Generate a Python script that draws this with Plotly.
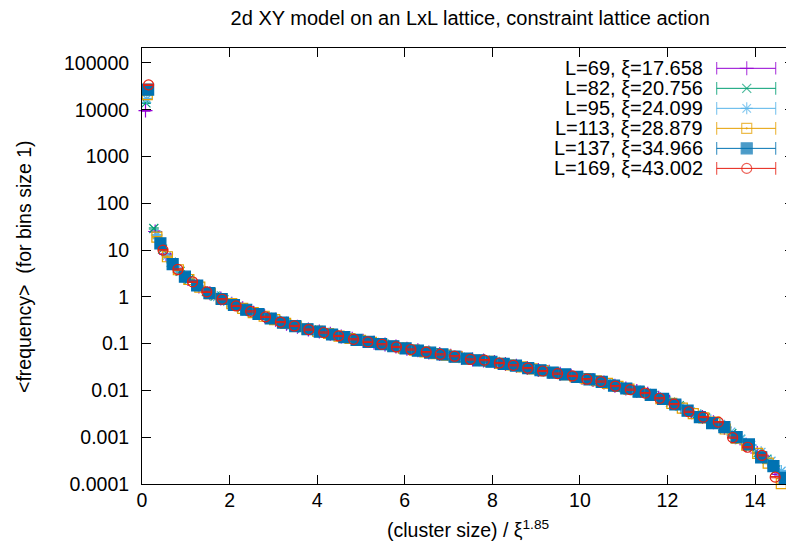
import plotly.graph_objects as go

# ---------------- data ----------------
labels = ["L=69, ξ=17.658", "L=82, ξ=20.756", "L=95, ξ=24.099",
          "L=113, ξ=28.879", "L=137, ξ=34.966", "L=169, ξ=43.002"]

x_L69 = [0.08, 0.30, 0.55, 0.80, 1.05, 1.30, 1.55, 1.80, 2.05, 2.30, 2.55, 2.80, 3.05, 3.30, 3.55,
         3.80, 4.05, 4.30, 4.55, 4.80, 5.05, 5.30, 5.55, 5.80, 6.05, 6.30, 6.55, 6.80, 7.05, 7.30,
         7.55, 7.80, 8.05, 8.30, 8.55, 8.80, 9.05, 9.30, 9.55, 9.80, 10.05, 10.30, 10.55, 10.80,
         11.05, 11.30, 11.55, 11.80, 12.05, 12.30, 12.55, 12.80, 13.05, 13.30, 13.55, 13.80, 14.05,
         14.30, 14.55, 14.80]
y_L69 = [9600, 25, 8.2, 4.0, 2.4, 1.66, 1.19, 0.92, 0.71, 0.57, 0.46, 0.385, 0.325, 0.268, 0.23,
         0.201, 0.181, 0.162, 0.143, 0.127, 0.115, 0.105, 0.096, 0.087, 0.078, 0.072, 0.065, 0.060,
         0.055, 0.050, 0.046, 0.0435, 0.0405, 0.0368, 0.0338, 0.0302, 0.0275, 0.0252, 0.0228, 0.0207,
         0.0186, 0.0167, 0.0148, 0.0126, 0.0110, 0.0097, 0.0085, 0.0070, 0.0057, 0.0045, 0.0034,
         0.0027, 0.0021, 0.0016, 0.0010, 0.00069, 0.00046, 0.00030, 0.00016, 0.00017]

x_L82 = [0.09, 0.27, 0.47, 0.67, 0.87, 1.07, 1.27, 1.47, 1.67, 1.87, 2.07, 2.27, 2.47, 2.67, 2.87,
         3.07, 3.27, 3.47, 3.67, 3.87, 4.07, 4.27, 4.47, 4.67, 4.87, 5.07, 5.27, 5.47, 5.67, 5.87,
         6.07, 6.27, 6.47, 6.67, 6.87, 7.07, 7.27, 7.47, 7.67, 7.87, 8.07, 8.27, 8.47, 8.67, 8.87,
         9.07, 9.27, 9.47, 9.67, 9.87, 10.07, 10.27, 10.47, 10.67, 10.87, 11.07, 11.27, 11.47, 11.67,
         11.87, 12.07, 12.27, 12.47, 12.67, 12.87, 13.07, 13.27, 13.47, 13.67, 13.87, 14.07, 14.27,
         14.47, 14.67]
y_L82 = [14000, 29, 10.5, 5.5, 3.5, 2.35, 1.72, 1.30, 1.04, 0.86, 0.69, 0.58, 0.49, 0.42, 0.365,
         0.315, 0.275, 0.24, 0.215, 0.196, 0.180, 0.165, 0.149, 0.135, 0.123, 0.114, 0.105, 0.098,
         0.091, 0.084, 0.077, 0.072, 0.067, 0.062, 0.058, 0.055, 0.051, 0.047, 0.044, 0.043, 0.040,
         0.037, 0.0345, 0.0325, 0.0298, 0.027, 0.025, 0.023, 0.0215, 0.0198, 0.0185, 0.0169, 0.0156,
         0.0140, 0.0122, 0.0110, 0.0099, 0.0089, 0.0078, 0.0067, 0.0056, 0.0047, 0.0037, 0.0031,
         0.0026, 0.0021, 0.0017, 0.0012, 0.00090, 0.00064, 0.00047, 0.00034, 0.00020, 0.00015]

x_L95 = [0.11, 0.34, 0.57, 0.80, 1.03, 1.26, 1.49, 1.72, 1.95, 2.18, 2.41, 2.64, 2.87, 3.10, 3.33,
         3.56, 3.79, 4.02, 4.25, 4.48, 4.71, 4.94, 5.17, 5.40, 5.63, 5.86, 6.09, 6.32, 6.55, 6.78,
         7.01, 7.24, 7.47, 7.70, 7.93, 8.16, 8.39, 8.62, 8.85, 9.08, 9.31, 9.54, 9.77, 10.00, 10.23,
         10.46, 10.69, 10.92, 11.15, 11.38, 11.61, 11.84, 12.07, 12.30, 12.53, 12.76, 12.99, 13.22,
         13.45, 13.68, 13.91, 14.14, 14.37, 14.60, 14.83]
y_L95 = [17000, 21, 7.6, 4.0, 2.5, 1.75, 1.27, 1.0, 0.79, 0.63, 0.51, 0.44, 0.365, 0.31, 0.262,
         0.229, 0.202, 0.184, 0.165, 0.147, 0.132, 0.119, 0.109, 0.100, 0.092, 0.084, 0.077, 0.071,
         0.065, 0.060, 0.056, 0.051, 0.047, 0.044, 0.042, 0.039, 0.0355, 0.0328, 0.0298, 0.027,
         0.025, 0.0228, 0.021, 0.019, 0.0172, 0.0157, 0.0138, 0.0119, 0.0106, 0.0095, 0.0082, 0.0069,
         0.0056, 0.0045, 0.0035, 0.0029, 0.0023, 0.0019, 0.0013, 0.00092, 0.00068, 0.00048, 0.00031,
         0.00019, 0.00018]

x_L113 = [0.12, 0.34, 0.58, 0.83, 1.07, 1.32, 1.56, 1.81, 2.05, 2.30, 2.54, 2.79, 3.03, 3.28, 3.52,
          3.77, 4.01, 4.26, 4.50, 4.75, 4.99, 5.24, 5.48, 5.73, 5.97, 6.22, 6.46, 6.71, 6.95, 7.20,
          7.44, 7.69, 7.93, 8.18, 8.42, 8.67, 8.91, 9.16, 9.40, 9.65, 9.89, 10.14, 10.38, 10.63,
          10.87, 11.12, 11.36, 11.61, 11.85, 12.10, 12.34, 12.59, 12.83, 13.08, 13.32, 13.57, 13.81,
          14.06, 14.30, 14.60]
y_L113 = [21000, 19, 7.2, 3.8, 2.35, 1.62, 1.17, 0.91, 0.72, 0.57, 0.46, 0.385, 0.325, 0.272,
          0.234, 0.205, 0.184, 0.165, 0.145, 0.129, 0.117, 0.107, 0.097, 0.088, 0.080, 0.073, 0.067,
          0.061, 0.057, 0.052, 0.047, 0.044, 0.042, 0.038, 0.035, 0.032, 0.029, 0.0265, 0.024,
          0.0218, 0.0198, 0.0178, 0.0161, 0.0142, 0.0122, 0.0107, 0.0094, 0.0080, 0.0067, 0.0053,
          0.0042, 0.0032, 0.0026, 0.0021, 0.0015, 0.00095, 0.00068, 0.00045, 0.00028, 0.000102]

x_L137 = [0.14, 0.42, 0.70, 0.98, 1.26, 1.54, 1.82, 2.10, 2.38, 2.66, 2.94, 3.22, 3.50, 3.78, 4.06,
          4.34, 4.62, 4.90, 5.18, 5.46, 5.74, 6.02, 6.30, 6.58, 6.86, 7.14, 7.42, 7.70, 7.98, 8.26,
          8.54, 8.82, 9.10, 9.38, 9.66, 9.94, 10.22, 10.50, 10.78, 11.06, 11.34, 11.62, 11.90, 12.18,
          12.46, 12.74, 13.02, 13.30, 13.58, 13.86, 14.14, 14.42, 14.68]
y_L137 = [27000, 13.9, 5.0, 2.7, 1.75, 1.20, 0.90, 0.67, 0.53, 0.43, 0.345, 0.282, 0.237, 0.203,
          0.180, 0.157, 0.138, 0.121, 0.109, 0.098, 0.088, 0.079, 0.071, 0.064, 0.059, 0.053, 0.048,
          0.044, 0.041, 0.037, 0.034, 0.030, 0.027, 0.024, 0.022, 0.0195, 0.0172, 0.0153, 0.0127,
          0.0110, 0.0094, 0.0080, 0.0066, 0.0050, 0.0037, 0.0027, 0.0020, 0.00165, 0.00100, 0.00070,
          0.00037, 0.00024, 0.000135]

x_L169 = [0.15, 0.48, 0.82, 1.155, 1.48, 1.83, 2.15, 2.48, 2.82, 3.16, 3.48, 3.81, 4.15, 4.49, 4.83,
          5.16, 5.48, 5.81, 6.14, 6.49, 6.81, 7.14, 7.50, 7.82, 8.16, 8.48, 8.81, 9.15, 9.49, 9.83,
          10.16, 10.48, 10.81, 11.15, 11.49, 11.82, 12.15, 12.49, 12.82, 13.16, 13.49, 13.83, 14.16,
          14.46]
y_L169 = [34000, 10, 3.86, 2.1, 1.28, 0.89, 0.64, 0.49, 0.373, 0.29, 0.239, 0.2, 0.173, 0.146,
          0.124, 0.109, 0.097, 0.085, 0.075, 0.066, 0.059, 0.054, 0.046, 0.0445, 0.0386, 0.0345,
          0.030, 0.026, 0.0229, 0.0204, 0.0174, 0.0155, 0.0124, 0.0104, 0.0088, 0.0068, 0.0051,
          0.0035, 0.0027, 0.0021, 0.00098, 0.00061, 0.00041, 0.00014]

y_tickvals = [1e-4, 1e-3, 1e-2, 1e-1, 1, 10, 100, 1000, 10000, 100000]
y_ticktext = ["0.0001", "0.001", "0.01", "0.1", "1", "10", "100", "1000", "10000", "100000"]
x_tickvals = [0, 2, 4, 6, 8, 10, 12, 14]

# ---------------- styling ----------------
colors = ["#9400d3", "#009e73", "#56b4e9", "#e69f00", "#0072b2", "#e51e10"]
symbols = ["cross-thin-open", "x-thin-open", "asterisk-open", "square-open-dot", "square", "circle-open"]
sizes = [10, 9, 10, 10, 11, 10]
FONT = "Liberation Sans, Arial, sans-serif"
FS_TICK = 19.5
FS_TEXT = 20

series = [(x_L69, y_L69), (x_L82, y_L82), (x_L95, y_L95),
          (x_L113, y_L113), (x_L137, y_L137), (x_L169, y_L169)]

fig = go.Figure()
for (xs, ys), c, s, sz, lab in zip(series, colors, symbols, sizes, labels):
    fig.add_trace(go.Scatter(
        x=xs, y=ys, mode="markers", name=lab, showlegend=False, cliponaxis=False,
        marker=dict(symbol=s, size=sz, color=c, line=dict(color=c, width=1.2)),
        error_y=dict(type="percent", value=3, color=c, thickness=1, width=5),
    ))

# custom gnuplot-style key (text right-aligned, sample to the right)
KEY_TEXT_X = 0.8635
KEY_X0, KEY_XM, KEY_X1 = 0.8814, 0.9275, 0.9719
KEY_Y0, KEY_DY = 0.9534, 0.0459
for i, (c, s, sz, lab) in enumerate(zip(colors, symbols, sizes, labels)):
    ky = KEY_Y0 - i * KEY_DY
    fig.add_trace(go.Scatter(
        x=[KEY_X0, KEY_XM, KEY_X1], y=[ky, ky, ky], xaxis="x2", yaxis="y2",
        mode="lines+markers", showlegend=False, hoverinfo="skip", cliponaxis=False,
        line=dict(color=c, width=1),
        marker=dict(symbol=["line-ns-open", s, "line-ns-open"], size=[9, sz, 9], color=c,
                    line=dict(color=c, width=1.2)),
    ))
    fig.add_annotation(x=KEY_TEXT_X, y=ky, xref="x2", yref="y2", text=lab, showarrow=False,
                       xanchor="right", yanchor="middle",
                       font=dict(family=FONT, size=FS_TEXT, color="black"))

axis_common = dict(showline=True, linecolor="black", linewidth=1, mirror="ticks",
                   ticks="inside", ticklen=9, tickwidth=1, tickcolor="black",
                   showgrid=False, zeroline=False,
                   tickfont=dict(family=FONT, size=FS_TICK, color="black"))

# the page body adds an 8px offset; the figure is sized to keep the plot frame in place
fig.update_layout(
    width=786, height=541,
    margin=dict(l=134, r=0, t=40, b=65),
    paper_bgcolor="white", plot_bgcolor="white",
    title=dict(text="2d XY model on an LxL lattice, constraint lattice action",
               x=0.588, xanchor="center", y=0.9815, yanchor="middle",
               font=dict(family=FONT, size=FS_TEXT, color="black")),
    xaxis=dict(range=[0, 14.89], tickvals=x_tickvals, ticklabelstandoff=-1, **axis_common),
    yaxis=dict(type="log", range=[-4, 5.32], tickvals=y_tickvals, ticktext=y_ticktext,
               ticklabelstandoff=8, **axis_common),
    xaxis2=dict(range=[0, 1], overlaying="x", visible=False, fixedrange=True),
    yaxis2=dict(range=[0, 1], overlaying="y", visible=False, fixedrange=True),
    showlegend=False,
)

fig.add_annotation(x=-0.181, y=0.5, xref="paper", yref="paper", text="<frequency>  (for bins size 1)",
                   textangle=-90, showarrow=False, xanchor="center", yanchor="middle",
                   font=dict(family=FONT, size=FS_TICK, color="black"))
fig.add_annotation(x=0.5, y=-0.103, xref="paper", yref="paper",
                   text="(cluster size) / ξ<sup>1.85</sup>", showarrow=False,
                   xanchor="center", yanchor="middle",
                   font=dict(family=FONT, size=FS_TICK, color="black"))

fig.write_html("out.html")
